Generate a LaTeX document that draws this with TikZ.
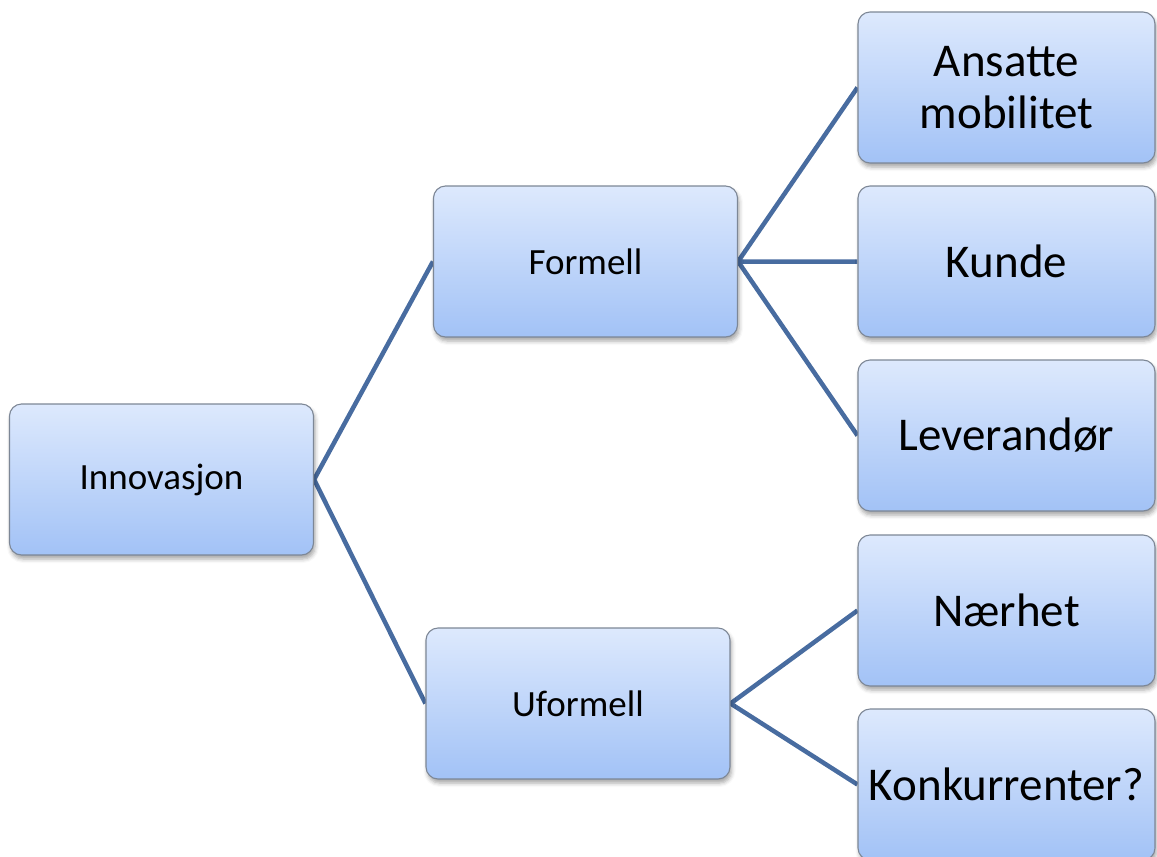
\documentclass[tikz,border=0pt]{standalone}
\usepackage{fontspec}
\setmainfont{Carlito}
\usetikzlibrary{shadows.blur,backgrounds}
\definecolor{boxtop}{RGB}{221,233,253}
\definecolor{boxbottom}{RGB}{162,194,246}
\definecolor{boxline}{RGB}{125,135,150}
\definecolor{linkcol}{RGB}{72,108,160}
\tikzset{
  box/.style={rectangle, rounded corners=12pt, draw=boxline, line width=1.1pt,
    top color=boxtop, bottom color=boxbottom, align=center, inner sep=0pt,
    minimum height=151pt,
    blur shadow={shadow xshift=1.5pt, shadow yshift=-4pt, shadow blur radius=4pt, shadow opacity=35}},
  smallbox/.style={box, minimum width=304pt, font=\fontsize{37}{44}\selectfont},
  bigbox/.style={box, minimum width=297pt, font=\fontsize{47}{52}\selectfont},
  link/.style={draw=linkcol, line width=4.5pt}
}
\begin{document}
\begin{tikzpicture}[x=1pt,y=-1pt]
  \useasboundingbox (0,0) rectangle (1157,857);
  \clip (0,0) rectangle (1157,857);
  % root and two branches
  \node[smallbox] (inn) at (161.5,479.5) {Innovasjon};
  \node[smallbox] (formell) at (585.5,261.5) {Formell};
  \node[smallbox] (uformell) at (578,703.5) {Uformell};
  % leaves
  \node[bigbox] (ansatte) at (1006.5,87.5) {Ansatte\\mobilitet};
  \node[bigbox] (kunde) at (1006.5,261.5) {Kunde};
  \node[bigbox] (lev) at (1006.5,435.5) {Leverandør};
  \node[bigbox] (naer) at (1006.5,610.5) {Nærhet};
  \node[bigbox] (konk) at (1006.5,784.5) {Konkurrenter?};
  % connectors behind the boxes
  \begin{pgfonlayer}{background}
    \draw[link] (formell.west) -- (inn.east) -- (uformell.west);
    \draw[link] (ansatte.west) -- (formell.east) -- (kunde.west);
    \draw[link] (formell.east) -- (lev.west);
    \draw[link] (naer.west) -- (uformell.east) -- (konk.west);
  \end{pgfonlayer}
\end{tikzpicture}
\end{document}
